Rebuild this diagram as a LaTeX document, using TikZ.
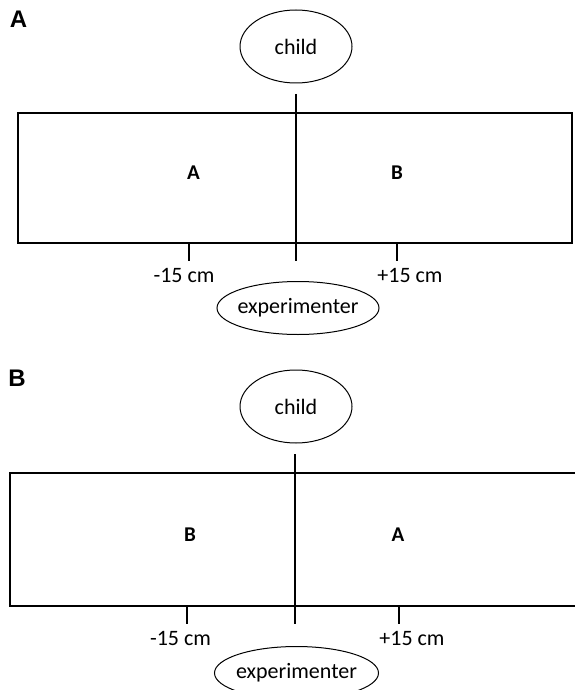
\documentclass[tikz,border=0pt]{standalone}
\usepackage{fontspec}
\setmainfont{Carlito}
\newfontfamily\panelfont{Liberation Sans}
\usetikzlibrary{shapes.geometric}

\tikzset{
  person/.style={draw, ellipse, line width=1pt, inner sep=0pt, font=\fontsize{22}{26}\selectfont},
  mark label/.style={font=\fontsize{22}{26}\selectfont, inner sep=0pt},
  side label/.style={font=\fontsize{21}{25}\selectfont\bfseries, inner sep=0pt},
  panel label/.style={font=\panelfont\fontsize{24}{28}\selectfont\bfseries, inner sep=0pt},
  table/.style={line width=1.6pt},
  tick/.style={line width=1.4pt}
}

\begin{document}
\begin{tikzpicture}[x=1pt, y=-1pt]
              \clip (0,0) rectangle (575,690);
              % panel A
              \node[panel label] (panA) at (18.5,19) {A};
              \node[person, minimum width=112pt, minimum height=73pt] (childA) at (296,46.5) {child};
              \node[person, inner xsep=-4pt, minimum width=162pt, minimum height=53pt] (expA) at (298,308) {experimenter};
              \draw[table] (18,113) rectangle (572,243);
              \coordinate (topA) at (296,94);
              \coordinate (botA) at (296,261);
              \draw[tick] (topA) -- (botA);
              \node[side label] (leftA) at (193.5,173) {A};
              \node[side label] (rightA) at (397,173) {B};
              \draw[tick] (189,243) -- (189,261);
              \draw[tick] (397,243) -- (397,261);
              \node[mark label] (minusA) at (184,275) {-15 cm};
              \node[mark label] (plusA) at (410,275) {+15 cm};
              % panel B
              \node[panel label] (panB) at (17,378) {B};
              \node[person, minimum width=112pt, minimum height=73pt] (childB) at (296,406.5) {child};
              \node[person, inner xsep=-4pt, minimum width=164pt, minimum height=53pt] (expB) at (296.5,673) {experimenter};
              \draw[table] (10,473) rectangle (585,606);
              \coordinate (topB) at (295,454);
              \coordinate (botB) at (295,624);
              \draw[tick] (topB) -- (botB);
              \node[side label] (leftB) at (190,535) {B};
              \node[side label] (rightB) at (398,535) {A};
              \draw[tick] (187,606) -- (187,624);
              \draw[tick] (399,606) -- (399,624);
              \node[mark label] (minusB) at (180.5,638) {-15 cm};
              \node[mark label] (plusB) at (412,638) {+15 cm};
          \end{tikzpicture}
\end{document}
